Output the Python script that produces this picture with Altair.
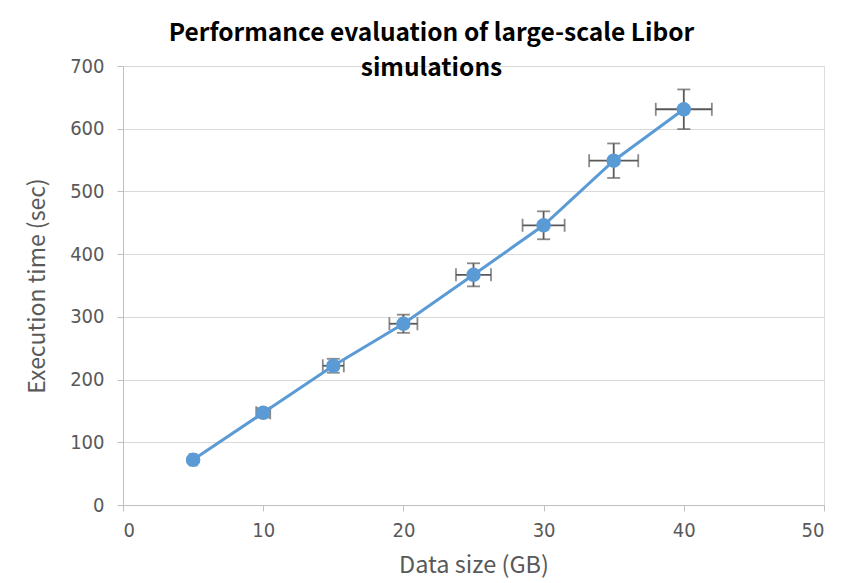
import altair as alt
import pandas as pd

data_size = [5, 10, 15, 20, 25, 30, 35, 40]
exec_time = [72, 147, 222, 289, 367, 446, 549, 631]
y_err = [3.6, 7.4, 11.1, 14.5, 18.4, 22.3, 27.5, 31.6]
x_err = [0.25, 0.5, 0.75, 1.0, 1.25, 1.5, 1.75, 2.0]

df = pd.DataFrame({
    "x": data_size,
    "y": exec_time,
    "ylo": [v - e for v, e in zip(exec_time, y_err)],
    "yhi": [v + e for v, e in zip(exec_time, y_err)],
    "xlo": [v - e for v, e in zip(data_size, x_err)],
    "xhi": [v + e for v, e in zip(data_size, x_err)],
})

LINE = "#5B9BD5"
ERR = "#595959"
TXT = "#595959"
LABEL_FONT = "DejaVu Sans Condensed"

xscale = alt.Scale(domain=[0, 50], nice=False, zero=True)
yscale = alt.Scale(domain=[0, 700], nice=False)

xaxis = alt.Axis(values=[0, 10, 20, 30, 40, 50], title="Data size (GB)", grid=False,
                 domainColor="#BFBFBF", tickColor="#BFBFBF", tickSize=6,
                 labelFontSize=20, labelColor=TXT, labelFont=LABEL_FONT, labelPadding=9,
                 labelFontWeight="normal",
                 titleFontSize=23.5, titleColor=TXT, titleFont="Noto Sans CJK SC",
                 titleFontWeight="normal", titlePadding=13)
yaxis = alt.Axis(values=[0, 100, 200, 300, 400, 500, 600, 700], title="Execution time (sec)",
                 grid=True, gridColor="#D9D9D9", gridWidth=1.2,
                 domainColor="#BFBFBF", tickColor="#BFBFBF", tickSize=6,
                 labelFontSize=20, labelColor=TXT, labelFont=LABEL_FONT, labelPadding=13,
                 titleFontSize=23, titleColor=TXT, titleFont="Noto Sans CJK SC",
                 titleFontWeight="normal", titlePadding=20)

base = alt.Chart(df)

vrule = base.mark_rule(color=ERR, strokeWidth=1.8).encode(
    x=alt.X("x:Q", scale=xscale, axis=xaxis), y=alt.Y("ylo:Q", scale=yscale, axis=yaxis), y2="yhi:Q")
hrule = base.mark_rule(color=ERR, strokeWidth=1.8).encode(
    x=alt.X("xlo:Q", scale=xscale), x2="xhi:Q", y=alt.Y("y:Q", scale=yscale))
cap_top = base.mark_tick(color=ERR, thickness=1.8, size=13, orient="horizontal").encode(
    x=alt.X("x:Q", scale=xscale), y=alt.Y("yhi:Q", scale=yscale))
cap_bot = base.mark_tick(color=ERR, thickness=1.8, size=13, orient="horizontal").encode(
    x=alt.X("x:Q", scale=xscale), y=alt.Y("ylo:Q", scale=yscale))
cap_l = base.mark_tick(color=ERR, thickness=1.8, size=13, orient="vertical").encode(
    x=alt.X("xlo:Q", scale=xscale), y=alt.Y("y:Q", scale=yscale))
cap_r = base.mark_tick(color=ERR, thickness=1.8, size=13, orient="vertical").encode(
    x=alt.X("xhi:Q", scale=xscale), y=alt.Y("y:Q", scale=yscale))

line = base.mark_line(color=LINE, strokeWidth=3).encode(
    x=alt.X("x:Q", scale=xscale), y=alt.Y("y:Q", scale=yscale))
pts = base.mark_circle(color=LINE, size=210, opacity=1).encode(
    x=alt.X("x:Q", scale=xscale), y=alt.Y("y:Q", scale=yscale))

chart = alt.layer(vrule, hrule, cap_top, cap_bot, cap_l, cap_r, line, pts).properties(
    width=701, height=439,
    autosize=alt.AutoSizeParams(type="none"),
    padding={"left": 115, "top": 58, "right": 18, "bottom": 75},
    title=alt.TitleParams(
        text=["Performance evaluation of large-scale Libor", "simulations"],
        font="Noto Sans CJK SC", fontSize=24.5, fontWeight="bold", color="#000000",
        anchor="middle", dx=-42, offset=-25, lineHeight=35),
).configure_view(stroke=None).configure(background="white")

chart.save("out.html", embed_options={"renderer": "svg", "actions": False})
